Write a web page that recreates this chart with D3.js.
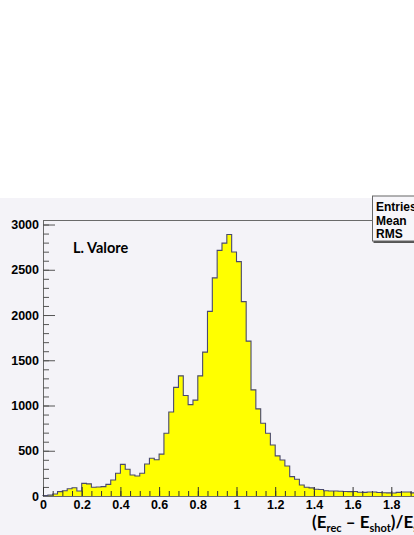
<!DOCTYPE html>
<html>
<head>
<meta charset="utf-8">
<script src="https://cdn.jsdelivr.net/npm/d3@7"></script>
<style>
  html, body { margin: 0; padding: 0; background: #ffffff; }
  svg { display: block; }
  .tick text { font-family: "Liberation Sans", Arial, sans-serif; font-weight: bold; font-size: 12.5px; fill: #000; }
</style>
</head>
<body>
<svg id="graph-svg" width="414" height="535"></svg>
<script>
'use strict';

/* -- Histogram data (80 bins of 0.025 between 0 and 2) -------------------- */
const binWidth = 0.025;
const binCounts = [
    5, 10, 22, 48, 58, 80, 92, 55, 140, 134,
    96, 100, 104, 129, 177, 251, 350, 295, 232, 221,
    251, 354, 417, 400, 463, 694, 928, 1200, 1328, 1110,
    1010, 1060, 1328, 1590, 2040, 2410, 2714, 2794, 2890, 2696,
    2590, 2148, 1712, 1173, 963, 804, 694, 564, 443, 398,
    332, 214, 185, 122, 96, 90, 75, 72, 58, 55,
    55, 52, 50, 48, 50, 42, 40, 45, 44, 38,
    36, 34, 33, 40, 45, 44, 34, 33, 35, 30
];

/* -- Axis ticks ------------------------------------------------------------ */
const xTicks = [0, 0.2, 0.4, 0.6, 0.8, 1, 1.2, 1.4, 1.6, 1.8, 2];
const xTickLabels = ['0', '0.2', '0.4', '0.6', '0.8', '1', '1.2', '1.4', '1.6', '1.8', '2'];
const yTicks = [0, 500, 1000, 1500, 2000, 2500, 3000];
const yTickLabels = ['0', '500', '1000', '1500', '2000', '2500', '3000'];
const statsLabels = ['Entries', 'Mean', 'RMS'];

/* -- Layout ---------------------------------------------------------------- */
const svg = d3.select('#graph-svg');
const frame = { left: 43, top: 220, bottom: 496, right: 430 };
const canvasTop = 198;

const xScale = d3.scaleLinear().domain([0, 2]).range([frame.left, frame.right]);
const yScale = d3.scaleLinear().domain([0, 3050]).range([frame.bottom, frame.top]);

/* -- Canvas background ----------------------------------------------------- */
svg.append('rect')
    .attr('x', 0).attr('y', canvasTop)
    .attr('width', 414).attr('height', 535 - canvasTop)
    .attr('fill', '#f4f3f8');

/* -- Histogram ------------------------------------------------------------- */
const stepPoints = [[0, 0]];
binCounts.forEach(function(c, i) {
    stepPoints.push([i * binWidth, c]);
    stepPoints.push([(i + 1) * binWidth, c]);
});
stepPoints.push([binCounts.length * binWidth, 0]);

const line = d3.line()
    .x(function(d) { return xScale(d[0]); })
    .y(function(d) { return yScale(d[1]); });

svg.append('path')
    .attr('d', line(stepPoints))
    .attr('fill', '#ffff00')
    .attr('stroke', '#4a4a6e')
    .attr('stroke-width', 1.1);

/* -- Frame top line -------------------------------------------------------- */
svg.append('line')
    .attr('x1', frame.left).attr('x2', 414)
    .attr('y1', frame.top + 0.5).attr('y2', frame.top + 0.5)
    .attr('stroke', '#6a6a6a');

/* -- Y axis ---------------------------------------------------------------- */
const yAxis = d3.axisLeft(yScale)
    .tickValues(yTicks)
    .tickFormat(function(d, i) { return yTickLabels[i]; })
    .tickSizeInner(-12).tickSizeOuter(0).tickPadding(4);
const yAxisEl = svg.append('g')
    .attr('class', 'y axis')
    .attr('transform', 'translate(' + frame.left + ',0)')
    .call(yAxis);
yAxisEl.select('.domain').attr('stroke', '#6a6a6a');
yAxisEl.selectAll('.tick line').attr('stroke', '#555');

const yMinor = d3.range(0, 3001, 100);
svg.append('g')
    .attr('transform', 'translate(' + frame.left + ',0)')
    .call(d3.axisLeft(yScale).tickValues(yMinor).tickFormat('').tickSizeInner(-6).tickSizeOuter(0))
    .call(function(g) { g.select('.domain').remove(); })
    .selectAll('.tick line').attr('stroke', '#555');

/* -- X axis ---------------------------------------------------------------- */
const xAxis = d3.axisBottom(xScale)
    .tickValues(xTicks)
    .tickFormat(function(d, i) { return xTickLabels[i]; })
    .tickSizeInner(-9).tickSizeOuter(0).tickPadding(4);
const xAxisEl = svg.append('g')
    .attr('class', 'x axis')
    .attr('transform', 'translate(0,' + frame.bottom + ')')
    .call(xAxis);
xAxisEl.select('.domain').attr('stroke', '#6a6a6a');
xAxisEl.selectAll('.tick line').attr('stroke', '#333');

const xMinor = d3.range(0, 2.001, 0.05);
svg.append('g')
    .attr('transform', 'translate(0,' + frame.bottom + ')')
    .call(d3.axisBottom(xScale).tickValues(xMinor).tickFormat('').tickSizeInner(-5).tickSizeOuter(0))
    .call(function(g) { g.select('.domain').remove(); })
    .selectAll('.tick line').attr('stroke', '#333');

/* -- Stats box ------------------------------------------------------------- */
svg.append('rect')
    .attr('x', 373.5).attr('y', canvasTop)
    .attr('width', 50).attr('height', 45)
    .attr('fill', '#555');
svg.append('rect')
    .attr('x', 372.5).attr('y', canvasTop - 2)
    .attr('width', 50).attr('height', 45)
    .attr('fill', '#f7f6fa')
    .attr('stroke', '#666');
svg.selectAll('.stat-label')
    .data(statsLabels)
    .enter()
    .append('text')
    .attr('class', 'stat-label')
    .attr('x', 376)
    .attr('y', function(d, i) { return 211 + i * 13.5; })
    .attr('font-family', '"Liberation Sans", Arial, sans-serif')
    .attr('font-weight', 'bold')
    .attr('font-size', 12)
    .text(function(d) { return d; });

/* -- Labels ---------------------------------------------------------------- */
svg.append('text')
    .attr('x', 73).attr('y', 253)
    .attr('font-family', 'Lato, "Open Sans", sans-serif')
    .attr('font-weight', 'bold')
    .attr('font-size', 14.5)
    .text('L. Valore');

const xTitle = svg.append('text')
    .attr('x', 312).attr('y', 528)
    .attr('font-family', 'Lato, "Open Sans", sans-serif')
    .attr('font-weight', 'bold')
    .attr('font-size', 17);
xTitle.append('tspan').text('(E');
xTitle.append('tspan').attr('font-size', 11).attr('dy', 4).text('rec');
xTitle.append('tspan').attr('dy', -4).text(' \u2013 E');
xTitle.append('tspan').attr('font-size', 11).attr('dy', 4).text('shot');
xTitle.append('tspan').attr('dy', -4).text(')/E');
xTitle.append('tspan').attr('font-size', 11).attr('dy', 4).text('shot');
</script>
</body>
</html>
